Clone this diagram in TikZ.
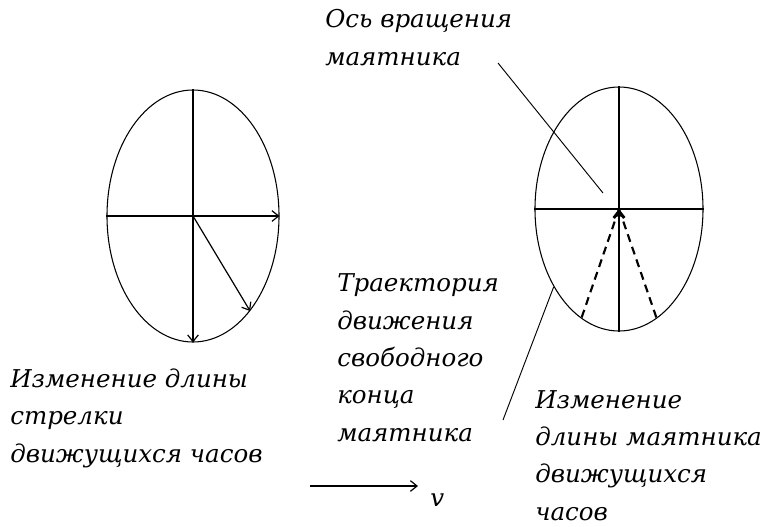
\documentclass[tikz,border=0pt]{standalone}
\usepackage{fontspec}
\setmainfont{DejaVu Serif}
\usepackage{tikz}
\usetikzlibrary{arrows.meta,shapes.geometric}

\tikzset{
  clock/.style={draw,ellipse,inner sep=0pt,line width=0.8pt},
  lbl/.style={font=\fontsize{18.4}{28}\selectfont\itshape,align=left,anchor=base west,inner sep=0pt},
  hand/.style={-{Straight Barb[length=5pt,width=8pt]},line width=0.9pt},
  swing/.style={line width=1.6pt,dash pattern=on 6pt off 4pt},
  leader/.style={line width=0.7pt}
}

\begin{document}
\begin{tikzpicture}[x=0.75pt,y=-0.75pt]
      \useasboundingbox (0,0) rectangle (764,526);
      % moving clock
      \node[clock,minimum width=129pt,minimum height=189pt] (clockL) at (193,216) {};
      \draw[line width=0.9pt] (clockL.north) -- (clockL.center);
      \draw[hand] (clockL.center) -- (clockL.south);
      \draw[line width=0.9pt] (clockL.west) -- (clockL.center);
      \draw[hand] (clockL.center) -- (clockL.east);
      \draw[hand] (clockL.center) -- (clockL.-59);
      % pendulum
      \node[clock,minimum width=126pt,minimum height=183pt] (clockR) at (619,209) {};
      \draw[line width=0.9pt] (clockR.north) -- (clockR.center);
      \draw[line width=0.9pt] (clockR.west) -- (clockR.east);
      \draw[-{Straight Barb[length=5pt,width=8pt]},line width=2.2pt] (clockR.south) -- (clockR.center);
      \draw[swing] (clockR.center) -- (clockR.251);
      \draw[swing] (clockR.center) -- (clockR.-71);
      % labels (anchored on last line)
      \node[lbl] (axis) at (325,65) {Ось вращения\\маятника};
      \node[lbl] (path) at (337,441) {Траектория\\движения\\свободного\\конца\\маятника};
      \node[lbl] (handlen) at (10,462) {Изменение длины\\стрелки\\движущихся часов};
      \node[lbl] (pendlen) at (535,520) {Изменение\\длины маятника\\движущихся\\часов};
      % leaders
      \coordinate (axisend) at (498,63);
      \coordinate (pivot) at (603,193);
      \draw[leader] (axisend) -- (pivot);
      \coordinate (pathend) at (503,420);
      \draw[leader] (pathend) -- (clockR.230);
      % velocity
      \coordinate (vtail) at (310,486);
      \coordinate (vtip) at (418,486);
      \draw[hand] (vtail) -- (vtip);
      \node[lbl] (vel) at (430,506) {v};
    \end{tikzpicture}
\end{document}
